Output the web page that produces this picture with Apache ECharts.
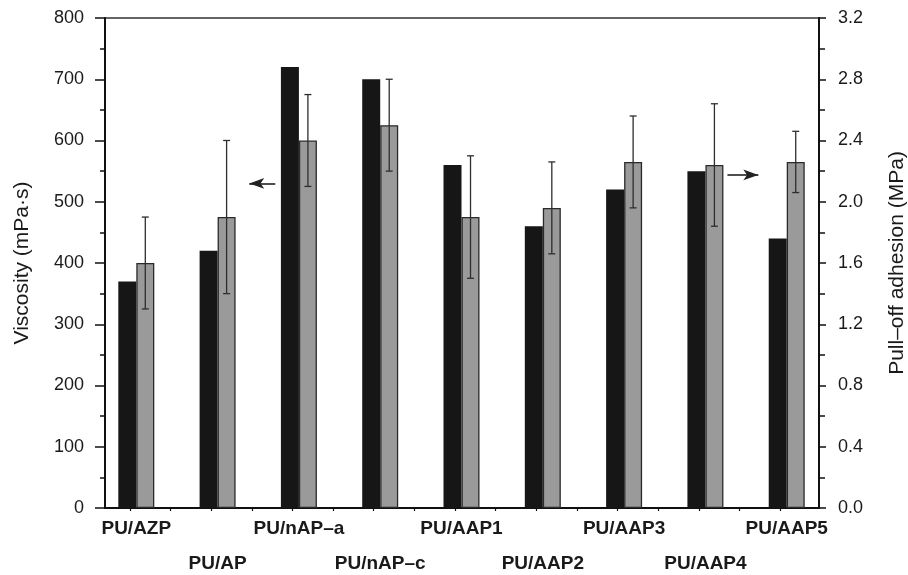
<!DOCTYPE html>
<html>
<head>
<meta charset="utf-8">
<script src="https://cdn.jsdelivr.net/npm/echarts@6/dist/echarts.min.js"></script>
<style>
  html, body { margin: 0; padding: 0; background: #fff; }
  #chart { width: 908px; height: 575px; }
</style>
</head>
<body>
<div id="chart"></div>
<script>
// Coating samples along the x axis
const categories = ['PU/AZP', 'PU/AP', 'PU/nAP–a', 'PU/nAP–c', 'PU/AAP1', 'PU/AAP2', 'PU/AAP3', 'PU/AAP4', 'PU/AAP5'];
// Viscosity (mPa·s), left axis
const viscosity = [370, 420, 720, 700, 560, 460, 520, 550, 440];
// Pull-off adhesion (MPa), right axis, with symmetric error
const adhesion = [1.60, 1.90, 2.40, 2.50, 1.90, 1.96, 2.26, 2.24, 2.26];
const adhesionErr = [0.30, 0.50, 0.30, 0.30, 0.40, 0.30, 0.30, 0.40, 0.20];
// Axis tick values
const viscosityTicks = [0, 100, 200, 300, 400, 500, 600, 700, 800];
const adhesionTicks = [0.0, 0.4, 0.8, 1.2, 1.6, 2.0, 2.4, 2.8, 3.2];
const sampleTicks = [-0.08, 0.42, 0.92, 1.42, 1.92, 2.42, 2.92, 3.42, 3.92, 4.42, 4.92, 5.42, 5.92, 6.42, 6.92, 7.42, 7.92];
// Direction arrows pointing to each series' axis
// (marker lines on bars are shifted with their bar, half a bar width)
const leftArrow = { from: [1.82, 530], to: [1.50, 530] };
const rightArrow = { from: [7.16, 2.175], to: [7.54, 2.175] };

const FONT = '"Liberation Sans", Arial, Helvetica, sans-serif';
const INK = '#1a1a1a';
const BAR_W = 18;
const X_MIN = -0.385, X_MAX = 8.397;

const chart = echarts.init(document.getElementById('chart'), null, { renderer: 'canvas' });

const arrowMarker = (seg) => ({
  silent: true,
  symbol: ['none', 'arrow'],
  symbolSize: [8, 15],
  label: { show: false },
  lineStyle: { color: '#222', width: 1.6, type: 'solid' },
  emphasis: { disabled: true },
  data: [[{ coord: seg.from }, { coord: seg.to }]]
});

// Sample names alternate between two rows under the axis
const sampleLabel = (indices) => ({
  customValues: indices,
  showMinLabel: true, showMaxLabel: true, hideOverlap: false,
  margin: 10,
  fontFamily: FONT, fontSize: 19, fontWeight: 'bold', color: INK,
  lineHeight: 22,
  formatter: (v) => categories[Math.round(v)]
});
const evenIdx = categories.map((c, i) => i).filter((i) => i % 2 === 0);
const oddIdx = categories.map((c, i) => i).filter((i) => i % 2 === 1);

const option = {
  animation: false,
  backgroundColor: '#fff',
  textStyle: { fontFamily: FONT, color: INK },
  grid: {
    left: 105, right: 89, top: 18, bottom: 67,
    outerBoundsMode: 'none',
    containLabel: false,
    show: true, borderColor: '#333', borderWidth: 1.5,
    backgroundColor: 'transparent'
  },
  xAxis: [
    {
      type: 'value', position: 'bottom',
      min: X_MIN, max: X_MAX,
      splitLine: { show: false },
      axisLine: { show: true, onZero: false, lineStyle: { color: '#111', width: 2 } },
      axisTick: { show: true, customValues: sampleTicks, length: 3, lineStyle: { color: '#111', width: 1.2 } },
      axisLabel: sampleLabel(evenIdx)
    },
    {
      type: 'value', position: 'bottom', offset: 35,
      min: X_MIN, max: X_MAX,
      splitLine: { show: false },
      axisLine: { show: false, onZero: false },
      axisTick: { show: false },
      axisLabel: sampleLabel(oddIdx)
    }
  ],
  yAxis: [
    {
      type: 'value', position: 'left',
      min: viscosityTicks[0], max: viscosityTicks[viscosityTicks.length - 1], interval: 100,
      name: 'Viscosity (mPa·s)', nameLocation: 'middle', nameGap: 72, nameRotate: 90,
      nameTextStyle: { fontFamily: FONT, fontSize: 21, color: INK },
      splitLine: { show: false },
      axisLine: { show: true, onZero: false, lineStyle: { color: '#111', width: 2 } },
      axisTick: { show: true, length: 10, lineStyle: { color: '#111', width: 1.5 } },
      minorTick: { show: true, splitNumber: 2, length: 5, lineStyle: { color: '#111', width: 1.5 } },
      axisLabel: { margin: 21, fontFamily: FONT, fontSize: 18, color: INK }
    },
    {
      type: 'value', position: 'right',
      min: adhesionTicks[0], max: adhesionTicks[adhesionTicks.length - 1], interval: 0.4,
      name: 'Pull–off adhesion (MPa)', nameLocation: 'middle', nameGap: 68, nameRotate: 90,
      nameTextStyle: { fontFamily: FONT, fontSize: 21, color: INK },
      splitLine: { show: false },
      axisLine: { show: true, onZero: false, lineStyle: { color: '#111', width: 2 } },
      axisTick: { show: true, length: 7, lineStyle: { color: '#111', width: 1.5 } },
      minorTick: { show: true, splitNumber: 2, length: 6, lineStyle: { color: '#111', width: 1.5 } },
      axisLabel: { margin: 19, fontFamily: FONT, fontSize: 18, color: INK, formatter: (v) => v.toFixed(1) }
    }
  ],
  series: [
    {
      name: 'Viscosity',
      type: 'bar',
      xAxisIndex: 0, yAxisIndex: 0,
      barWidth: BAR_W, barGap: '0%',
      itemStyle: { color: '#161616' },
      data: viscosity.map((v, i) => [i, v]),
      markLine: arrowMarker(leftArrow)
    },
    {
      name: 'Pull-off adhesion',
      type: 'bar',
      xAxisIndex: 0, yAxisIndex: 1,
      barWidth: BAR_W, barGap: '0%',
      itemStyle: { color: '#9a9a9a', borderColor: '#2a2a2a', borderWidth: 1.3 },
      data: adhesion.map((v, i) => [i, v]),
      markLine: arrowMarker(rightArrow)
    },
    {
      name: 'Adhesion error',
      type: 'custom',
      xAxisIndex: 0, yAxisIndex: 1,
      z: 5,
      silent: true,
      data: adhesion.map((v, i) => [i, v, adhesionErr[i]]),
      encode: { x: 0, y: 1 },
      renderItem: (params, api) => {
        const x = api.value(0), y = api.value(1), e = api.value(2);
        const top = api.coord([x, y + e]);
        const bot = api.coord([x, y - e]);
        const cx = top[0] + BAR_W / 2;
        const cap = 3.5;
        const style = { stroke: '#2e2e2e', lineWidth: 1.3 };
        return {
          type: 'group',
          children: [
            { type: 'line', shape: { x1: cx, y1: top[1], x2: cx, y2: bot[1] }, style },
            { type: 'line', shape: { x1: cx - cap, y1: top[1], x2: cx + cap, y2: top[1] }, style },
            { type: 'line', shape: { x1: cx - cap, y1: bot[1], x2: cx + cap, y2: bot[1] }, style }
          ]
        };
      }
    }
  ]
};

chart.setOption(option);
</script>
</body>
</html>
